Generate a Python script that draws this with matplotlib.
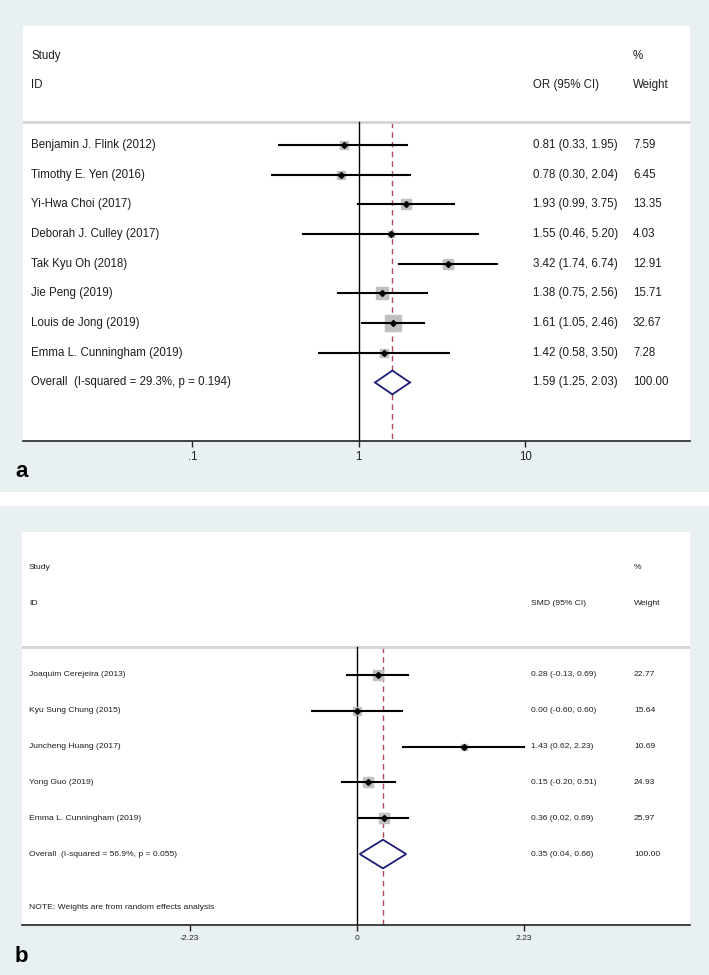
import numpy as np
import matplotlib
matplotlib.use("Agg")
import matplotlib.pyplot as plt
from matplotlib.patches import Rectangle

plt.rcParams["font.family"] = ["Liberation Sans", "DejaVu Sans"]

# -------------------------------
# Data: panel a (odds ratios)
# -------------------------------
a_studies = ["Benjamin J. Flink (2012)", "Timothy E. Yen (2016)", "Yi-Hwa Choi (2017)",
             "Deborah J. Culley (2017)", "Tak Kyu Oh (2018)", "Jie Peng (2019)",
             "Louis de Jong (2019)", "Emma L. Cunningham (2019)"]
a_est = [0.81, 0.78, 1.93, 1.55, 3.42, 1.38, 1.61, 1.42]
a_lo = [0.33, 0.30, 0.99, 0.46, 1.74, 0.75, 1.05, 0.58]
a_hi = [1.95, 2.04, 3.75, 5.20, 6.74, 2.56, 2.46, 3.50]
a_weight = [7.59, 6.45, 13.35, 4.03, 12.91, 15.71, 32.67, 7.28]
a_overall = (1.59, 1.25, 2.03)
a_overall_weight = 100.00
a_overall_label = "Overall  (I-squared = 29.3%, p = 0.194)"
a_ticks = [0.1, 1, 10]
a_ticklabels = [".1", "1", "10"]

# -------------------------------
# Data: panel b (standardised mean differences)
# -------------------------------
b_studies = ["Joaquim Cerejeira (2013)", "Kyu Sung Chung (2015)", "Juncheng Huang (2017)",
             "Yong Guo (2019)", "Emma L. Cunningham (2019)"]
b_est = [0.28, 0.00, 1.43, 0.15, 0.36]
b_lo = [-0.13, -0.60, 0.62, -0.20, 0.02]
b_hi = [0.69, 0.60, 2.23, 0.51, 0.69]
b_weight = [22.77, 15.64, 10.69, 24.93, 25.97]
b_overall = (0.35, 0.04, 0.66)
b_overall_weight = 100.00
b_overall_label = "Overall  (I-squared = 56.9%, p = 0.055)"
b_ticks = [-2.23, 0, 2.23]
b_ticklabels = ["-2.23", "0", "2.23"]

W, H = 709, 975
BG = "#e9f0f2"
TXT = "#1e1e1e"


def px_axes(fig, x0, y0, x1, y1):
    # pixel box (top-left origin) -> figure axes
    return fig.add_axes([x0 / W, 1 - y1 / H, (x1 - x0) / W, (y1 - y0) / H])


def forest(ax, studies, est, lo, hi, weight, overall, overall_w, overall_label, null,
           est_name, ticks, ticklabels, xlim, ylim, fs, box_k, col_x, note=None):
    n = len(studies)
    rows = np.arange(n)
    tr = ax.get_yaxis_transform()
    ax.set_facecolor("white")
    ax.set_xlim(*xlim)
    ax.set_ylim(*ylim)

    # header
    ax.text(col_x[0], -3, "Study", transform=tr, fontsize=fs, va="center", color=TXT)
    ax.text(col_x[0], -2, "ID", transform=tr, fontsize=fs, va="center", color=TXT)
    ax.text(col_x[1], -2, est_name + " (95% CI)", transform=tr, fontsize=fs,
            va="center", color=TXT)
    ax.text(col_x[2], -3, "%", transform=tr, fontsize=fs, va="center", color=TXT)
    ax.text(col_x[2], -2, "Weight", transform=tr, fontsize=fs, va="center", color=TXT)
    ax.axhline(-0.78, color="#d4d4d4", lw=2)

    # reference lines
    ax.plot([null, null], [-0.78, ylim[0]], color="black", lw=1, zorder=2)
    ax.plot([overall[0], overall[0]], [-0.78, ylim[0]], color="#b04a5a", lw=1,
            ls=(0, (4, 3)), zorder=1)

    for i in rows:
        side_px = box_k * np.sqrt(weight[i])
        ax.plot(est[i], i, marker="s", ms=side_px * 0.72, color="#c0c0c0",
                mec="#c0c0c0", zorder=3)
        ax.plot([lo[i], hi[i]], [i, i], color="black", lw=1.5, zorder=4)
        ax.plot(est[i], i, marker="D", ms=3, color="black", zorder=5)
        ax.text(col_x[0], i, studies[i], transform=tr, fontsize=fs, va="center", color=TXT)
        ax.text(col_x[1], i, f"{est[i]:.2f} ({lo[i]:.2f}, {hi[i]:.2f})",
                transform=tr, fontsize=fs, va="center", color=TXT)
        ax.text(col_x[2], i, f"{weight[i]:.2f}", transform=tr, fontsize=fs,
                va="center", color=TXT)

    # pooled diamond
    r = n
    e, l, h = overall
    ax.fill([l, e, h, e, l], [r, r - 0.4, r, r + 0.4, r], facecolor="white",
            edgecolor="#1c1c78", lw=1.3, zorder=6)
    ax.text(col_x[0], r, overall_label, transform=tr, fontsize=fs, va="center", color=TXT)
    ax.text(col_x[1], r, f"{e:.2f} ({l:.2f}, {h:.2f})", transform=tr, fontsize=fs,
            va="center", color=TXT)
    ax.text(col_x[2], r, f"{overall_w:.2f}", transform=tr, fontsize=fs,
            va="center", color=TXT)
    if note:
        ax.text(col_x[0], r + 1.5, note, transform=tr, fontsize=fs, va="center", color=TXT)

    for s in ["top", "left", "right"]:
        ax.spines[s].set_visible(False)
    ax.spines["bottom"].set_color("#222222")
    ax.spines["bottom"].set_linewidth(1.2)
    ax.set_yticks([])
    ax.set_xticks(ticks)
    ax.set_xticklabels(ticklabels)
    ax.minorticks_off()
    ax.tick_params(axis="x", length=4.5, width=1, pad=3, labelsize=fs, colors="#222222")


fig = plt.figure(figsize=(W / 100, H / 100), dpi=100)
fig.add_artist(Rectangle((0, 1 - 492 / H), 1, 492 / H, transform=fig.transFigure,
                         facecolor=BG, edgecolor="none", zorder=0))
fig.add_artist(Rectangle((0, 0), 1, (H - 506) / H, transform=fig.transFigure,
                         facecolor=BG, edgecolor="none", zorder=0))

# Panel a
ax_a = px_axes(fig, 23, 26, 690, 441)
ax_a.set_xscale("log")
forest(ax_a, a_studies, a_est, a_lo, a_hi, a_weight, a_overall, a_overall_weight,
       a_overall_label, 1, "OR", a_ticks, a_ticklabels,
       (10 ** -2.017, 10 ** 1.989), (9.97, -4.0), 8.3, 2.8, (0.012, 0.765, 0.9145))

# Panel b
ax_b = px_axes(fig, 22, 532, 690, 925)
forest(ax_b, b_studies, b_est, b_lo, b_hi, b_weight, b_overall, b_overall_weight,
       b_overall_label, 0, "SMD", b_ticks, b_ticklabels,
       (-4.47, 4.45), (6.98, -3.99), 6.1, 1.96, (0.0105, 0.762, 0.916),
       note="NOTE: Weights are from random effects analysis")

fig.text(15 / W, 1 - 472 / H, "a", fontsize=16, fontweight="bold", va="center")
fig.text(15 / W, 1 - 956 / H, "b", fontsize=16, fontweight="bold", va="center")

fig.savefig("out.png", dpi=100)
print("saved out.png")
